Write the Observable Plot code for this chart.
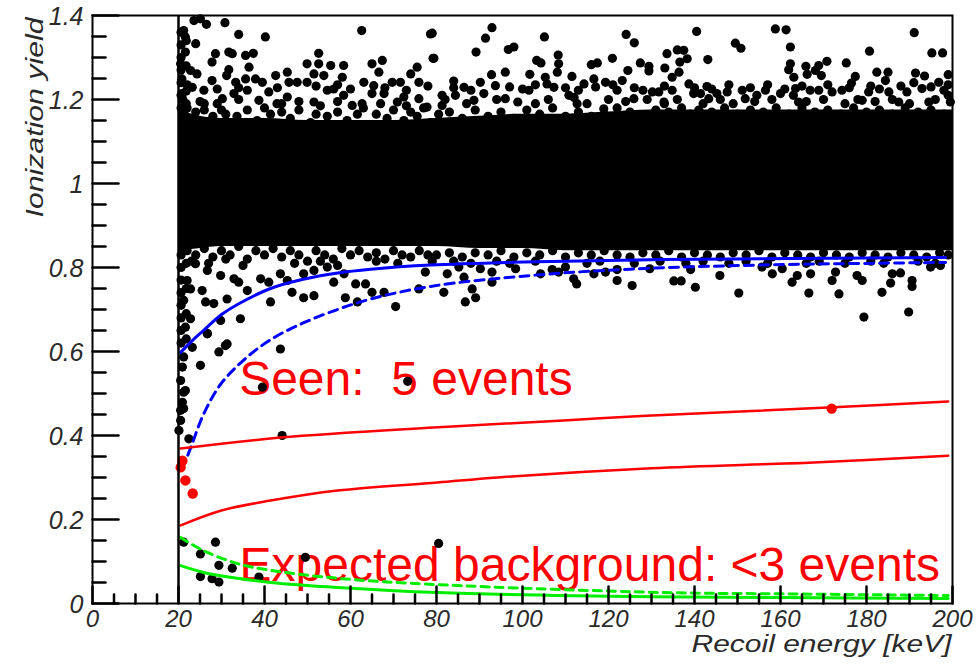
<!DOCTYPE html>
<html><head><meta charset="utf-8">
<script src="https://cdn.jsdelivr.net/npm/d3@7"></script>
<script src="https://cdn.jsdelivr.net/npm/@observablehq/plot@0.6"></script>
<style>html,body{margin:0;padding:0;background:#fff}svg{display:block}</style>
</head><body><div id="chart"></div><script>
// ---- axis ticks ----
const xMajor = [0,20,40,60,80,100,120,140,160,180,200];
const xMajorLabels = ["0","20","40","60","80","100","120","140","160","180","200"];
const xMinor = [5,10,15,25,30,35,45,50,55,65,70,75,85,90,95,105,110,115,125,130,135,145,150,155,165,170,175,185,190,195];
const yMajor = [0,0.2,0.4,0.6,0.8,1,1.2,1.4];
const yMajorLabels = ["0","0.2","0.4","0.6","0.8","1","1.2","1.4"];
const yMinor = [0.05,0.1,0.15,0.25,0.3,0.35,0.45,0.5,0.55,0.65,0.7,0.75,0.85,0.9,0.95,1.05,1.1,1.15,1.25,1.3,1.35];
const threshold = [20];

// ---- dense electron-recoil band (solid core) ----
const coreE      = [20,22,25,30,40,50,60,70,80,90,100,110,120,130,140,150,160,170,180,190,200];
const coreTop    = [1.2,1.17,1.16,1.155,1.155,1.15,1.15,1.15,1.155,1.16,1.165,1.165,1.17,1.175,1.175,1.175,1.175,1.175,1.175,1.175,1.175];
const coreBottom = [0.83,0.84,0.845,0.85,0.85,0.85,0.85,0.85,0.85,0.845,0.845,0.84,0.84,0.84,0.84,0.84,0.84,0.84,0.84,0.84,0.84];

// ---- individual events [recoil energy, ionization yield] ----
const upperEvents = [
[23.6,1.388],[25.1,1.392],[26.5,1.379],[30.8,1.383],[34.0,1.355],[40.2,1.349],[62.6,1.364],[78.6,1.356],[79.2,1.298],[21.2,1.364],[21.6,1.349],[24.0,1.333],[21.6,1.313],[20.5,1.285],[28.6,1.309],[31.7,1.313],[32.5,1.309],[27.8,1.289],[35.6,1.305],[37.4,1.31],[36.4,1.277],[31.7,1.271],[52.6,1.31],[49.9,1.285],[52.6,1.285],[55.4,1.281],[58.4,1.281],[65.0,1.285],[67.4,1.293],[75.5,1.277],[74.0,1.261],[42.6,1.257],[45.3,1.265],[51.5,1.261],[53.8,1.257],[58.1,1.253],[66.6,1.265],[31.2,1.257],[33.3,1.241],[35.6,1.249],[37.9,1.249],[39.5,1.241],[45.7,1.241],[47.6,1.241],[49.9,1.241],[54.6,1.222],[56.1,1.225],[63.1,1.241],[65.4,1.233],[69.7,1.241],[71.6,1.241],[75.9,1.241],[27.8,1.245],[25.9,1.222],[30.2,1.202],[32.9,1.214],[36.0,1.222],[41.0,1.218],[38.7,1.198],[42.9,1.19],[45.3,1.206],[51.5,1.194],[58.4,1.21],[65.0,1.214],[67.8,1.214],[70.9,1.194],[72.4,1.206],[75.9,1.202],[60.4,1.186],[62.7,1.19],[77.8,1.182],[22.8,1.269],[24.3,1.261],[20.8,1.249],[23.2,1.229],[20.8,1.214],
[79.0,1.358],[79.4,1.298],[92.9,1.371],[91.4,1.346],[89.2,1.313],[96.7,1.319],[98.0,1.325],[105.1,1.349],[108.3,1.306],[108.4,1.285],[103.3,1.293],[104.3,1.287],[96.0,1.265],[92.8,1.259],[101.7,1.26],[108.1,1.265],[111.5,1.255],[105.3,1.253],[116.0,1.283],[117.4,1.287],[120.9,1.298],[124.1,1.355],[126.0,1.335],[124.5,1.269],[127.4,1.287],[129.4,1.279],[129.4,1.268],[133.1,1.275],[133.6,1.309],[136.0,1.318],[137.5,1.317],[138.3,1.297],[136.6,1.289],[136.4,1.265],[134.8,1.253],[140.5,1.362],[84.0,1.244],[90.2,1.241],[86.4,1.229],[81.3,1.21],[84.4,1.21],[93.7,1.233],[96.0,1.202],[98.9,1.194],[101.5,1.222],[105.7,1.237],[107.3,1.229],[110.8,1.21],[114.3,1.237],[116.6,1.249],[119.3,1.241],[123.2,1.245],[122.0,1.222],[125.9,1.202],[130.2,1.218],[131.7,1.218],[134.8,1.222],[138.7,1.237],[81.3,1.186],[88.7,1.198],[91.0,1.214],[112.7,1.19],[118.9,1.178],[132.9,1.194],[139.8,1.214],
[158.8,1.368],[161.3,1.366],[149.5,1.334],[150.8,1.322],[162.3,1.325],[143.1,1.295],[180.7,1.315],[191.1,1.359],[195.2,1.311],[197.7,1.311],[170.8,1.291],[175.3,1.287],[168.9,1.281],[165.9,1.279],[162.3,1.285],[161.9,1.271],[166.2,1.26],[168.1,1.269],[169.5,1.257],[163.1,1.253],[177.4,1.255],[176.5,1.239],[182.4,1.265],[185.0,1.265],[184.4,1.245],[191.4,1.263],[193.5,1.256],[199.0,1.259],[196.8,1.241],[192.9,1.226],[198.0,1.222],[142.9,1.231],[141.4,1.214],[143.3,1.202],[145.2,1.214],[147.6,1.218],[151.1,1.222],[151.8,1.202],[154.5,1.21],[156.5,1.222],[160.0,1.214],[166.9,1.222],[168.9,1.222],[172.0,1.218],[174.3,1.222],[180.5,1.218],[185.2,1.218],[189.4,1.218],[163.5,1.226],[164.2,1.194],[179.0,1.198],[187.5,1.194],[194.5,1.194],[199.5,1.194]
];
const upperEdgeEvents = [
[24,1.17],[28,1.16],[22,1.18],[26,1.19],[30,1.175],[33.6,1.16],[38.3,1.15],[41.4,1.165],[46,1.155],[50.7,1.145],[54.6,1.16],[59.2,1.15],[61.6,1.165],[64.7,1.14],[68.5,1.155],[72.4,1.15],[75.5,1.16],[78.6,1.145],
[80.5,1.165],[83,1.17],[86,1.155],[89,1.175],[92,1.16],[95,1.17],[98,1.155],[101,1.175],[104,1.165],[107,1.18],[110,1.16],[113,1.17],[116,1.16],[119,1.165],[122,1.18],[125,1.17],[128,1.16],[131,1.175],[134,1.17],[137,1.18],[139,1.165],
[141,1.175],[144,1.17],[147,1.18],[150,1.165],[153,1.175],[156,1.17],[159,1.18],[162,1.165],[165,1.18],[168,1.17],[171,1.175],[174,1.165],[177,1.18],[180,1.17],[183,1.175],[186,1.165],[189,1.18],[192,1.17],[195,1.175],[198,1.165],
[21,1.2],[25,1.195],[29,1.19],[34,1.2],[44,1.19],[48,1.195],[53,1.185],[57,1.195],[67,1.19],[73,1.185],[82,1.2],[87,1.19],[94,1.2],[103,1.19],[106,1.2],[112,1.205],[115,1.19],[120,1.2],[124,1.195],[129,1.2],[133,1.19],[136,1.2],[142,1.19],[146,1.2],[149,1.19],[154,1.195],[158,1.2],[163,1.21],[166,1.195],[170,1.2],[175,1.19],[178,1.2],[182,1.195],[186,1.2],[190,1.19],[196,1.2],[199,1.21],
[26,1.175],[31,1.165],[36,1.175],[40,1.18],[44,1.17],[48,1.175],[52,1.165],[57,1.17],[63,1.18],[66,1.165],[70,1.175],[74,1.17],[77,1.18],
[22,1.235],[29,1.225],[34,1.228],[43,1.228],[52,1.232],[57,1.235],[60,1.225],[68,1.228],[73,1.222],[78,1.232],
[84,1.228],[88,1.222],[97,1.23],[100,1.225],[103,1.235],[110,1.228],[113,1.222],[117,1.23],[121,1.235],[126,1.228],[128,1.222],[133,1.232],[140,1.228],[144,1.225],[148,1.235],[153,1.228],[157,1.235],[161,1.225],[165,1.232],[171,1.235],[176,1.228],[181,1.232],[183,1.225],[188,1.232],[191,1.24],[195,1.23],[199,1.235]
];
const lowerEvents = [
[23.95,0.809],[26.7,0.793],[29.8,0.781],[32.9,0.773],[34.0,0.765],[36.0,0.745],[39.1,0.773],[41.0,0.765],[43.7,0.785],[45.3,0.769],[49.1,0.785],[51.5,0.793],[54.6,0.801],[56.1,0.765],[58.5,0.785],[61.2,0.761],[63.5,0.761],[65.0,0.741],[67.8,0.741],[75.9,0.749],[77.4,0.789],[22.0,0.769],[22.8,0.749],[25.5,0.745],[21.2,0.722],[26.3,0.718],[28.2,0.714],[31.3,0.725],[41.4,0.718],[46.4,0.741],[49.1,0.728],[51.5,0.733],[58.8,0.728],[61.6,0.718],[70.5,0.707],[34.4,0.678],[29.8,0.674],[22.8,0.678],[21.6,0.658],[26.7,0.642],[23.2,0.61],[31.3,0.618],[29.4,0.599],[43.7,0.606],[25.1,0.567],[21.2,0.587],[20.9,0.563],[20.5,0.531],[21.2,0.503],[20.9,0.479],[20.5,0.46],[20.5,0.436],[22.4,0.392],[39.5,0.515],[44.1,0.4],[73.3,0.529],[20.1,0.412],
[21.6,0.507],[21.2,0.464],[26.7,0.643],[30.9,0.614],
[21.2,0.146],[28.6,0.146],[25.1,0.118],[29.4,0.091],[32.5,0.084],[25.1,0.064],[27.8,0.059],[29.4,0.051],[38.7,0.063],[49.5,0.11],[80.5,0.143],
[81.7,0.741],[86.7,0.718],[89.1,0.728],[88.3,0.749],[86.4,0.777],[82.5,0.785],[85.2,0.801],[90.2,0.797],[92.9,0.789],[92.9,0.765],[98.4,0.797],[104.2,0.785],[106.9,0.795],[108.4,0.789],[110.0,0.801],[111.9,0.773],[112.6,0.761],[116.6,0.785],[119.3,0.789],[122.0,0.795],[122.0,0.769],[125.5,0.757],[129.6,0.797],[135.2,0.768],[136.9,0.768],[140.2,0.753],[139.1,0.795],[145.9,0.781],[150.3,0.739],[155.7,0.801],[158.1,0.785],[160.4,0.797],[162.7,0.765],[163.9,0.781],[166.6,0.739],[167.0,0.785],[172.0,0.769],[172.8,0.789],[173.6,0.737],[177.8,0.781],[179.0,0.769],[179.4,0.682],[183.6,0.741],[185.6,0.763],[186.0,0.785],[187.9,0.787],[190.6,0.769],[190.6,0.755],[189.8,0.694],[194.9,0.801],[197.2,0.805]
];
const lowerEdgeEvents = [
[22,0.84],[24,0.83],[26,0.845],[28,0.825],[30,0.84],[32,0.83],[34,0.85],[36,0.82],[38,0.84],[40,0.83],[42,0.845],[44,0.825],[46,0.84],[48,0.83],[50,0.815],[52,0.84],[54,0.83],[56,0.82],[58,0.845],[60,0.83],[62,0.84],[64,0.825],[66,0.835],[68,0.82],[70,0.84],[72,0.83],[74,0.825],[76,0.84],[78,0.83],
[80,0.83],[83,0.835],[86,0.825],[89,0.835],[92,0.83],[95,0.84],[98,0.825],[101,0.835],[104,0.83],[107,0.84],[110,0.825],[113,0.835],[116,0.83],[119,0.84],[122,0.83],[125,0.825],[128,0.835],[131,0.83],[134,0.84],[137,0.825],[140,0.835],[143,0.83],[146,0.825],[149,0.835],[152,0.83],[155,0.84],[158,0.825],[161,0.835],[164,0.83],[167,0.825],[170,0.835],[173,0.83],[176,0.825],[179,0.835],[182,0.83],[185,0.825],[188,0.835],[191,0.83],[194,0.825],[197,0.835],[199,0.83],
[23,0.815],[27,0.81],[31,0.82],[35,0.805],[47,0.81],[53,0.815],[57,0.805],[66,0.815],[71,0.81],[79,0.815],[84,0.815],[88,0.81],[94,0.815],[97,0.81],[103,0.815],[115,0.81],[118,0.815],[126,0.81],[132,0.815],[138,0.81],[142,0.815],[148,0.81],[152,0.815],[157,0.81],[166,0.81],[169,0.815],[175,0.81],[181,0.815],[184,0.81],[192,0.815],[196,0.81]
];
const thresholdEdgeEvents = [
[20.6,1.36],[20.6,1.33],[20.6,1.30],[20.6,1.27],[20.6,1.24],[20.6,1.21],[20.6,1.18],[20.6,0.83],[20.6,0.80],[20.6,0.77],[20.6,0.74],[20.6,0.71],[20.6,0.68],[20.6,0.65],[20.6,0.62],
[21.8,1.34],[21.8,1.28],[21.8,1.22],[21.8,1.19],[21.8,0.81],[21.8,0.75],[21.8,0.69],[21.8,0.63]
];

// ---- candidate (nuclear recoil) events ----
const candE = [20.5,20.9,21.6,23.3,171.9];
const candY = [0.324,0.34,0.293,0.262,0.464];

// ---- curves ----
const blueSolidE = [20.5,23.2,25.8,30,33.7,41.4,49,57,64.7,78.6,100.3,132.8,198.4];
const blueSolidY = [0.598,0.626,0.65,0.688,0.712,0.75,0.772,0.787,0.796,0.806,0.813,0.819,0.824];
const blueDashE = [20.9,22.8,25.8,29.8,35.1,41.4,49,57,64.7,78.6,101.9,125,156,198.4];
const blueDashY = [0.32,0.37,0.45,0.522,0.579,0.628,0.668,0.7,0.725,0.755,0.781,0.796,0.806,0.812];
const redUpperE = [20.5,43.7,79.3,109.5,128.8,172.3,199];
const redUpperY = [0.369,0.395,0.419,0.436,0.447,0.467,0.481];
const redLowerE = [20.5,29.8,41.4,57,80.2,94.2,130,167.7,199];
const redLowerY = [0.186,0.221,0.245,0.269,0.288,0.3,0.322,0.336,0.352];
const greenDashE = [20.5,25.8,33.7,41.4,57,80.2,132.8,160,199];
const greenDashY = [0.157,0.126,0.095,0.079,0.06,0.045,0.026,0.023,0.019];
const greenSolidE = [20.5,25.8,33.7,41.4,57,80.2,130,160,199];
const greenSolidY = [0.09,0.074,0.06,0.05,0.038,0.026,0.016,0.014,0.012];

// ---- annotations ----
const annotTexts = ["Seen:  5 events", "Expected background: <3 events"];
const annotE = [34.1, 34.2];
const annotY = [0.532, 0.089];
const xTitle = "Recoil energy [keV]";
const yTitle = "Ionization yield";

// ---- build ----
const core = coreE.map((e, i) => ({e, top: coreTop[i], bottom: coreBottom[i]}));
const pairs = (a, b) => a.map((v, i) => [v, b[i]]);
const FONT = "'Liberation Sans', Arial, Helvetica, sans-serif";
const tickUp = {draw(ctx, l) { ctx.moveTo(0, 0); ctx.lineTo(0, -l); }};
const tickRight = {draw(ctx, l) { ctx.moveTo(0, 0); ctx.lineTo(l, 0); }};
const dotR = 4.6;
const dotMarks = [upperEvents, upperEdgeEvents, lowerEvents, lowerEdgeEvents, thresholdEdgeEvents]
  .map(ev => Plot.dot(ev, {x: d => d[0], y: d => d[1], r: dotR, fill: "black"}));

const chart = Plot.plot({
  width: 976, height: 667,
  marginLeft: 92, marginRight: 24, marginTop: 15, marginBottom: 64,
  x: {domain: [0, 200], axis: null},
  y: {domain: [0, 1.4], axis: null},
  style: {fontFamily: FONT, background: "white", overflow: "visible"},
  marks: [
    Plot.text(annotTexts, {x: (d, i) => annotE[i], y: (d, i) => annotY[i], text: d => d, textAnchor: "start", fontSize: 48, fill: "#ff0000", fontFamily: FONT}),
    Plot.areaY(core, {x: "e", y1: "bottom", y2: "top", fill: "black", curve: "monotone-x"}),
    ...dotMarks,
    Plot.line(pairs(blueSolidE, blueSolidY), {x: d => d[0], y: d => d[1], stroke: "#0000ff", strokeWidth: 3, curve: "catmull-rom"}),
    Plot.line(pairs(blueDashE, blueDashY), {x: d => d[0], y: d => d[1], stroke: "#0000ff", strokeWidth: 3, strokeDasharray: "9,6", curve: "catmull-rom"}),
    Plot.line(pairs(redUpperE, redUpperY), {x: d => d[0], y: d => d[1], stroke: "#ff0000", strokeWidth: 2.5, curve: "catmull-rom"}),
    Plot.line(pairs(redLowerE, redLowerY), {x: d => d[0], y: d => d[1], stroke: "#ff0000", strokeWidth: 2.5, curve: "catmull-rom"}),
    Plot.line(pairs(greenDashE, greenDashY), {x: d => d[0], y: d => d[1], stroke: "#00ee00", strokeWidth: 3, strokeDasharray: "8,6", curve: "catmull-rom"}),
    Plot.line(pairs(greenSolidE, greenSolidY), {x: d => d[0], y: d => d[1], stroke: "#00ee00", strokeWidth: 3, curve: "catmull-rom"}),
    Plot.dot(pairs(candE, candY), {x: d => d[0], y: d => d[1], r: 5.2, fill: "#ff0000"}),
    Plot.ruleX(threshold, {y1: 0, y2: 1.4, stroke: "black", strokeWidth: 2.5}),
    Plot.frame({stroke: "black", strokeWidth: 2}),
    // inward ticks
    Plot.vector(xMajor, {x: d => d, y: 0, length: 17, shape: tickUp, anchor: "start", stroke: "black", strokeWidth: 2.5}),
    Plot.vector(xMinor, {x: d => d, y: 0, length: 9, shape: tickUp, anchor: "start", stroke: "black", strokeWidth: 2.5}),
    Plot.vector(yMajor, {x: 0, y: d => d, length: 26, shape: tickRight, anchor: "start", stroke: "black", strokeWidth: 2.5}),
    Plot.vector(yMinor, {x: 0, y: d => d, length: 13, shape: tickRight, anchor: "start", stroke: "black", strokeWidth: 2.5}),
    // tick labels
    Plot.text(xMajor, {x: d => d, y: 0, text: (d, i) => xMajorLabels[i], dy: 16, fontSize: 24, fontStyle: "italic", fill: "#2a2a2a", fontFamily: FONT}),
    Plot.text(yMajor, {x: 0, y: d => d, text: (d, i) => yMajorLabels[i], textAnchor: "end", dx: -9, dy: 1, fontSize: 25, fontStyle: "italic", fill: "#2a2a2a", fontFamily: FONT}),
    // axis titles
    Plot.text([xTitle], {frameAnchor: "bottom-right", text: d => d, textAnchor: "end", dy: 48, dx: -1, fontSize: 23, fontStyle: "italic", fill: "#2a2a2a", fontFamily: FONT}),
    Plot.text([yTitle], {frameAnchor: "top-left", text: d => d, textAnchor: "end", rotate: -90, dx: -67, dy: 2, fontSize: 24, fontStyle: "italic", fill: "#2a2a2a", fontFamily: FONT})
  ]
});
// the original titles are drawn horizontally stretched: match their measured lengths
const titleLen = {[xTitle]: 260, [yTitle]: 200};
d3.select(chart).selectAll("text").filter(function() { return titleLen[this.textContent] !== undefined; })
  .attr("textLength", function() { return titleLen[this.textContent]; })
  .attr("lengthAdjust", "spacingAndGlyphs");
document.getElementById("chart").appendChild(chart);
</script></body></html>
